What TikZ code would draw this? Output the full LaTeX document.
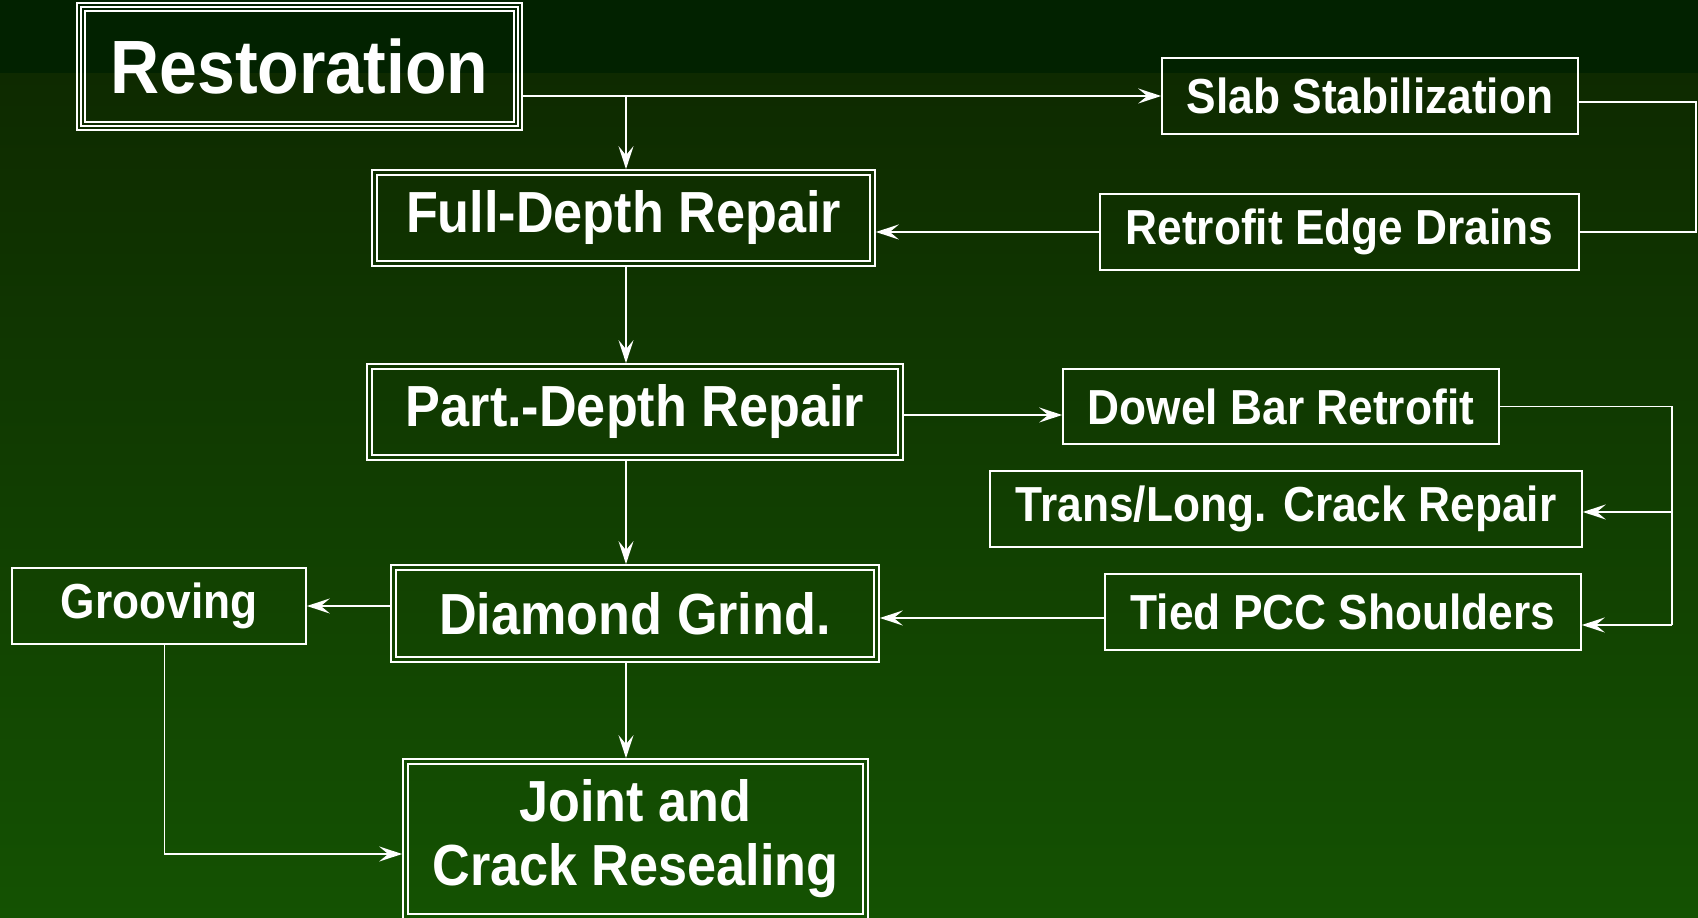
\documentclass[tikz,border=0pt]{standalone}
\usepackage{fontspec}
\setmainfont{Liberation Sans}[FakeStretch=0.9]
\usetikzlibrary{arrows.meta, positioning, calc}
\definecolor{bgband}{RGB}{2,34,0}
\definecolor{bgtop}{RGB}{14,42,0}
\definecolor{bgbot}{RGB}{20,82,2}
\tikzset{
    box/.style={draw=white, line width=1pt, inner sep=0pt, align=center, text=white,
        font=\bfseries\fontsize{28}{32}\selectfont},
    bigbox/.style={box, font=\bfseries\fontsize{33}{36.4}\selectfont},
    wire/.style={white, line width=1.1pt},
    flow/.style={wire, -{Stealth[length=0.46cm, width=0.3cm, inset=0.18cm]}},
}

\begin{document}
\begin{tikzpicture}[x=0.02cm, y=-0.02cm]
    \useasboundingbox (0,0) rectangle (1698,918);
    \fill[bgband] (0,0) rectangle (1698,74);
    \shade[top color=bgtop, bottom color=bgbot] (0,74) rectangle (1698,918);

    % main column
    \node[box, font=\bfseries\fontsize{43}{48}\selectfont, minimum width=8.9cm, minimum height=2.54cm]
        (rest) at (299.5,66.5) {Restoration};
    \node[bigbox, minimum width=10.06cm, minimum height=1.92cm] (fdr) at (623.5,218) {Full-Depth Repair};
    \node[bigbox, minimum width=10.72cm, minimum height=1.92cm] (pdr) at (635,412) {Part.-Depth Repair};
    \node[bigbox, minimum width=9.76cm, minimum height=1.94cm] (dg) at (635,613.5) {Diamond Grind.};
    \node[bigbox, minimum width=9.3cm, minimum height=3.2cm] (jcr) at (635.5,839) {Joint and\\Crack Resealing};

    % side boxes
    \node[box, minimum width=8.32cm, minimum height=1.52cm] (slab) at (1370,96) {Slab Stabilization};
    \node[box, minimum width=9.58cm, minimum height=1.52cm] (red) at (1339.5,232) {Retrofit Edge Drains};
    \node[box, minimum width=8.72cm, minimum height=1.5cm] (dbr) at (1281,406.5) {Dowel Bar Retrofit};
    \node[box, minimum width=11.84cm, minimum height=1.52cm] (tlc) at (1286,509) {Trans/Long. Crack Repair};
    \node[box, minimum width=9.52cm, minimum height=1.52cm] (tied) at (1343,612) {Tied PCC Shoulders};
    \node[box, minimum width=5.88cm, minimum height=1.52cm] (groov) at (159,606) {Grooving};

    % inner frames
    \foreach \d in {0.1,0.18}
        \draw[wire, line width=1pt] ([xshift=\d cm, yshift=-\d cm]rest.north west) rectangle ([xshift=-\d cm, yshift=\d cm]rest.south east);
    \foreach \n in {fdr,pdr,dg,jcr}
        \draw[wire, line width=1pt] ([xshift=0.11cm, yshift=-0.11cm]\n.north west) rectangle ([xshift=-0.11cm, yshift=0.11cm]\n.south east);

    \coordinate (spine) at (626,0);
    \coordinate (rbus) at (1672,0);
    \coordinate (lbus) at (1696,0);

    \draw[flow] (rest.east |- slab.west) -- (slab.west);
    \draw[flow] (spine |- slab.west) -- (fdr.north -| spine);
    \draw[wire] ([yshift=-0.12cm]slab.east) -- ([yshift=-0.12cm]slab.east -| lbus) -- (red.east -| lbus) -- (red.east);
    \draw[flow] (red.west) -- (red.west -| fdr.east);
    \draw[flow] (fdr.south -| spine) -- (pdr.north -| spine);
    \draw[flow] ([yshift=-0.06cm]pdr.east) -- ([yshift=-0.06cm]pdr.east -| dbr.west);
    \draw[wire] (dbr.east) -- (dbr.east -| rbus) -- ([yshift=-0.26cm]tied.east -| rbus);
    \draw[flow] ([yshift=-0.26cm]tied.east -| rbus) -- ([yshift=-0.26cm]tied.east);
    \draw[flow] ([yshift=-0.06cm]tlc.east -| rbus) -- ([yshift=-0.06cm]tlc.east);
    \draw[flow] ([yshift=-0.12cm]tied.west) -- ([yshift=-0.12cm]tied.west -| dg.east);
    \draw[flow] (pdr.south -| spine) -- (dg.north -| spine);
    \draw[flow] (dg.west |- groov.east) -- (groov.east);
    \draw[flow] (dg.south -| spine) -- (jcr.north -| spine);
    \draw[flow] ([xshift=0.11cm]groov.south) |- ([yshift=-0.3cm]jcr.west);
\end{tikzpicture}
\end{document}
